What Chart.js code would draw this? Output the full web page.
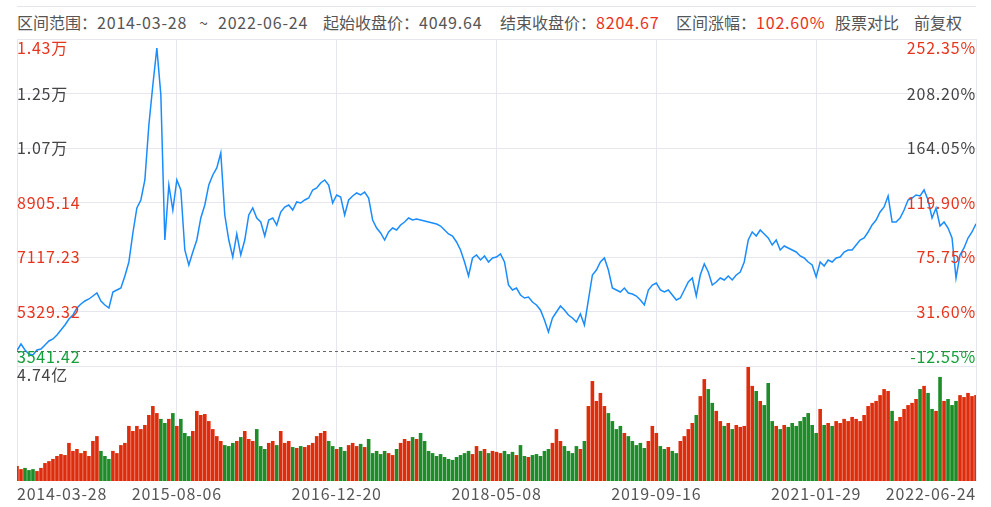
<!DOCTYPE html>
<html>
<head>
<meta charset="utf-8">
<script src="https://cdn.jsdelivr.net/npm/chart.js@4.4.1/dist/chart.umd.min.js"></script>
<style>
body{margin:0;background:#fff;width:991px;height:507px;overflow:hidden;position:relative;font-family:"Microsoft YaHei","Noto Sans CJK SC",sans-serif;}
#topline{position:absolute;left:17px;width:959px;top:6px;height:0;border-top:1px solid #e4e4ea;}
.h{position:absolute;top:11px;font-size:16px;color:#555;line-height:22px;white-space:nowrap;}
.n{letter-spacing:0.8px;}
.r{color:#e8341c;}
canvas{position:absolute;left:0;top:0;}
</style>
</head>
<body>
<div id="topline"></div>
<div class="h" style="left:17px">区间范围：<span class="n">2014-03-28</span></div>
<div class="h" style="left:199px">~</div>
<div class="h n" style="left:218px">2022-06-24</div>
<div class="h" style="left:323px">起始收盘价：<span class="n">4049.64</span></div>
<div class="h" style="left:500px">结束收盘价：<span class="n r">8204.67</span></div>
<div class="h" style="left:676px">区间涨幅：<span class="n r">102.60%</span></div>
<div class="h" style="left:835px">股票对比</div>
<div class="h" style="left:914px">前复权</div>
<canvas id="myChart" width="991" height="507"></canvas>
<script>
// tick labels
const dateTicks = ['2014-03-28','2015-08-06','2016-12-20','2018-05-08','2019-09-16','2021-01-29','2022-06-24'];
const priceTicks = [14268.87, 12480.96, 10693.05, 8905.14, 7117.23, 5329.32, 3541.42];
const leftLabels = ['1.43万','1.25万','1.07万','8905.14','7117.23','5329.32','3541.42'];
const rightLabels = ['252.35%','208.20%','164.05%','119.90%','75.75%','31.60%','-12.55%'];
const labelColors = ['#e8341c','#444','#444','#e8341c','#e8341c','#e8341c','#13a03a'];
const basePrice = 4049.64;
const volTop = 4.74;
const volTopLabel = '4.74亿';

// closing price, one point every ~8 trading days
const closes = [
 4050,4263,4067,3936,3903,4067,4100,4231,4362,4427,
 4559,4723,4887,5084,5215,5444,5575,5674,5740,5838,
 5936,5674,5543,5444,5969,6035,6100,6494,6954,7905,
 8725,8988,9644,11448,12760,13974,12432,7675,9480,8659,
 9644,9316,7347,6855,7282,7675,8397,8823,9480,9808,
 10038,10530,8495,7675,7118,7872,7183,7675,8495,8725,
 8397,8266,7806,8331,8397,8167,8594,8758,8823,8659,
 8922,8889,8988,9053,9316,9381,9545,9644,9480,8889,
 9152,9086,8495,8988,9119,9217,9152,9250,9053,8331,
 8069,7905,7675,7938,8069,8003,8167,8266,8397,8331,
 8364,8331,8298,8266,8233,8200,8134,8003,7872,7806,
 7610,7347,6954,6494,7085,7183,7019,7150,6954,7085,
 7118,7216,6954,6199,6035,6100,5871,5772,5805,5641,
 5543,5379,5051,4657,5116,5313,5510,5379,5215,5116,
 4985,5248,4887,5707,6527,6691,6954,7085,6691,6100,
 6035,5969,6100,5936,5903,5838,5707,5543,6035,6199,
 6265,6035,5969,6035,5871,5707,5772,6035,6297,6429,
 5838,6527,6888,6626,6199,6297,6429,6363,6494,6363,
 6527,6626,6954,7675,7938,7806,8003,7872,7741,7511,
 7675,7347,7479,7413,7347,7282,7150,7085,6954,6855,
 6461,6954,6822,7019,6954,7085,7118,7282,7347,7347,
 7511,7675,7741,7938,8167,8331,8594,8758,9119,8266,
 8266,8397,8659,8988,9053,9152,9119,9316,8988,8397,
 8725,8134,8266,8069,7741,6429,7183,7413,7741,7938,
 8205
];

// turnover, 亿
const volumes = [
 0.62,0.49,0.54,0.45,0.49,0.41,0.54,0.74,0.82,0.91,
 1.03,1.11,1.07,1.57,1.24,1.32,1.15,1.24,1.03,1.65,
 1.85,1.24,1.03,0.91,1.24,1.15,1.48,1.57,2.27,2.06,
 2.27,2.14,2.31,2.72,3.09,2.80,2.56,2.39,2.56,2.80,
 2.27,2.56,1.98,1.85,2.06,2.89,2.72,2.76,2.47,2.14,
 1.85,1.65,1.48,1.44,1.57,1.65,1.81,2.06,1.73,1.65,
 2.14,1.44,1.32,1.57,1.65,1.48,2.06,1.57,1.65,1.40,
 1.36,1.44,1.40,1.48,1.57,1.85,1.98,2.06,1.65,1.44,
 1.32,1.40,1.24,1.48,1.57,1.44,1.53,1.40,1.73,1.15,
 1.24,1.11,1.24,1.15,1.07,1.32,1.57,1.73,1.65,1.81,
 1.73,1.98,1.65,1.24,1.15,1.03,1.11,0.99,0.91,0.87,
 0.99,1.07,1.15,1.24,1.11,1.44,1.24,1.32,1.15,1.24,
 1.20,1.15,1.24,1.11,1.20,1.07,1.48,1.03,0.99,1.07,
 1.11,1.03,1.24,1.32,1.57,2.14,1.65,1.44,1.24,1.15,
 1.44,1.32,1.65,3.09,4.12,3.30,3.63,3.09,2.80,2.47,
 2.14,2.27,1.98,1.85,1.65,1.48,1.57,1.36,1.65,2.27,
 1.98,1.44,1.32,1.40,1.24,1.15,1.65,1.85,2.14,2.39,
 2.72,3.50,4.20,3.79,3.22,2.89,2.47,2.27,2.39,2.14,
 2.31,2.23,2.27,4.70,3.92,3.71,3.30,3.13,4.04,2.47,
 2.27,2.14,2.31,2.23,2.39,2.27,2.47,2.64,2.80,2.31,
 1.98,2.97,2.31,2.39,2.27,2.47,2.39,2.56,2.47,2.64,
 2.56,2.47,2.72,3.09,3.22,3.30,3.54,3.79,3.71,2.89,
 2.47,2.64,2.97,3.13,3.22,3.38,3.79,3.92,3.63,2.97,
 2.89,4.29,3.30,3.38,3.13,3.30,3.54,3.46,3.63,3.50,
 3.54
];

const FONT = '16px "Microsoft YaHei","Noto Sans CJK SC",sans-serif';
const RED = 'rgb(222,45,12)';
const GREEN = 'rgb(30,140,40)';
const GRID = '#e6e6ee';

// price panel is 327px of the 442px plot, volume panel the remaining 115px
const plotH = 442, priceH = 327, volH = 115;
const pMax = priceTicks[0], pMin = priceTicks[priceTicks.length - 1];
const yMin = pMax - (pMax - pMin) * plotH / priceH;
const vMax = volTop * plotH / volH;

const n = closes.length - 1;
const step = n / (dateTicks.length - 1);
const barColors = volumes.map((v, i) => (i === 0 || closes[i] >= closes[i - 1]) ? RED : GREEN);

const overlay = {
  id: 'overlay',
  afterDatasetsDraw(chart) {
    const { ctx, chartArea: a, scales: { x, y } } = chart;
    ctx.save();
    const by = Math.round(y.getPixelForValue(basePrice)) + 0.5;
    ctx.strokeStyle = '#666';
    ctx.lineWidth = 1;
    ctx.setLineDash([3, 3]);
    ctx.beginPath(); ctx.moveTo(a.left, by); ctx.lineTo(a.right, by); ctx.stroke();
    ctx.setLineDash([]);

    ctx.font = FONT;
    ctx.letterSpacing = '0.8px';
    priceTicks.forEach((v, k) => {
      let py = y.getPixelForValue(v);
      if (k === 0) { ctx.textBaseline = 'top'; py += 1; }
      else if (k === priceTicks.length - 1) { ctx.textBaseline = 'bottom'; py -= 1; }
      else ctx.textBaseline = 'middle';
      ctx.fillStyle = labelColors[k];
      ctx.textAlign = 'left'; ctx.fillText(leftLabels[k], a.left, py);
      ctx.textAlign = 'right'; ctx.fillText(rightLabels[k], a.right, py);
    });

    ctx.fillStyle = '#444';
    ctx.textAlign = 'left';
    ctx.textBaseline = 'top';
    ctx.fillText(volTopLabel, a.left, y.getPixelForValue(pMin) + 1);

    ctx.fillStyle = '#555';
    ctx.textBaseline = 'middle';
    dateTicks.forEach((d, k) => {
      const px = x.getPixelForValue(k * step);
      ctx.textAlign = k === 0 ? 'left' : (k === dateTicks.length - 1 ? 'right' : 'center');
      ctx.fillText(d, px, a.bottom + 13);
    });
    ctx.restore();
  }
};

const ctx = document.getElementById('myChart');
const myChart = new Chart(ctx, {
  data: {
    datasets: [{
      type: 'line',
      data: closes.map((c, i) => ({ x: i, y: c })),
      borderColor: 'rgb(25,140,255)',
      borderWidth: 1.5,
      pointRadius: 0,
      tension: 0,
      yAxisID: 'y',
      order: 0
    }, {
      type: 'bar',
      data: volumes.map((v, i) => ({ x: i, y: v })),
      backgroundColor: barColors,
      barPercentage: 0.9,
      categoryPercentage: 1,
      yAxisID: 'yv',
      order: 1
    }]
  },
  options: {
    responsive: false,
    animation: false,
    devicePixelRatio: 1,
    layout: { padding: { left: 17, right: 15, top: 39, bottom: 26 } },
    plugins: { legend: { display: false }, tooltip: { enabled: false } },
    scales: {
      x: {
        type: 'linear', min: 0, max: n, offset: false,
        afterBuildTicks: s => { s.ticks = dateTicks.map((d, k) => ({ value: k * step })); },
        ticks: { display: false },
        grid: { color: GRID, drawTicks: false, offset: false },
        border: { display: false }
      },
      y: {
        min: yMin, max: pMax,
        afterBuildTicks: s => { s.ticks = priceTicks.map(v => ({ value: v })); },
        ticks: { display: false },
        grid: { color: GRID, drawTicks: false },
        border: { display: false }
      },
      yv: {
        display: false, min: 0, max: vMax
      }
    }
  },
  plugins: [overlay]
});
</script>
</body>
</html>
